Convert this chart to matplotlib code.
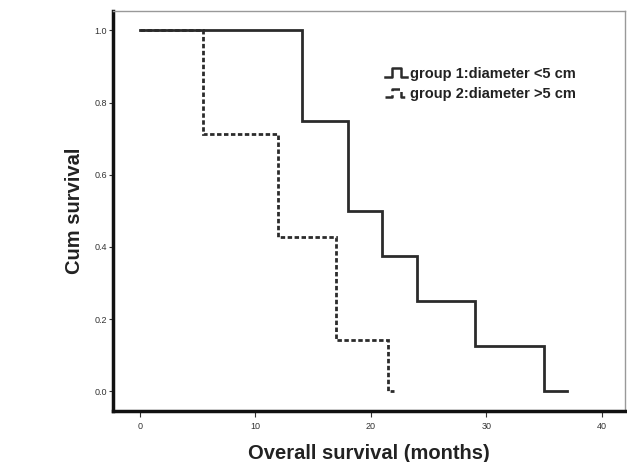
import matplotlib
matplotlib.use("Agg")
import matplotlib.pyplot as plt
import numpy as np
from matplotlib.lines import Line2D
from matplotlib.legend_handler import HandlerBase

# Kaplan-Meier step data
g1_time = [0, 14, 18, 21, 24, 29, 35, 37]
g1_surv = [1.0, 0.75, 0.5, 0.375, 0.25, 0.125, 0.0, 0.0]
g2_time = [0, 5.5, 12, 17, 21.5, 22]
g2_surv = [1.0, 0.714, 0.429, 0.143, 0.0, 0.0]

labels = ['group 1:diameter <5 cm', 'group 2:diameter >5 cm']
x_ticks = [0, 10, 20, 30, 40]
y_ticks = [0.0, 0.2, 0.4, 0.6, 0.8, 1.0]

plt.rcParams['font.family'] = ['Liberation Sans', 'DejaVu Sans']

line_col = '#2b2b2b'


class StepHandler(HandlerBase):
    # draws the little step glyph SPSS uses in its legends
    def create_artists(self, legend, orig_handle, xdescent, ydescent,
                       width, height, fontsize, trans):
        xs = np.array([0, 0.3, 0.3, 0.7, 0.7, 1.0]) * width - xdescent
        ys = (np.array([0, 0, 1, 1, 0, 0]) * 0.8 + 0.1) * height - ydescent
        ln = Line2D(xs, ys, color=orig_handle.get_color(),
                    lw=orig_handle.get_linewidth(),
                    ls=orig_handle.get_linestyle())
        ln.set_transform(trans)
        return [ln]


fig = plt.figure(figsize=(6.27, 4.62), dpi=100)
ax = fig.add_axes([0.181, 0.110, 0.816, 0.867])

l1, = ax.step(g1_time, g1_surv, where='post', color=line_col, lw=2.0,
              solid_joinstyle='miter')
l2, = ax.step(g2_time, g2_surv, where='post', color=line_col, lw=2.0,
              ls=(0, (1.6, 0.9)), dash_joinstyle='miter')

ax.set_xlim(-2.27, 42.0)
ax.set_ylim(-0.055, 1.055)
ax.set_xticks(x_ticks)
ax.set_yticks(y_ticks)
ax.set_yticklabels(['%.1f' % v for v in y_ticks])
ax.tick_params(axis='both', labelsize=6.5, colors='#333333', length=3,
               width=0.8, pad=1.5)
ax.tick_params(axis='x', length=4, pad=4)

for s in ['left', 'bottom']:
    ax.spines[s].set_linewidth(2.5)
    ax.spines[s].set_color('#111111')
for s in ['top', 'right']:
    ax.spines[s].set_linewidth(1.0)
    ax.spines[s].set_color('#999999')

ax.set_xlabel('Overall survival (months)', fontsize=14.5, fontweight='bold',
              color='#222222', labelpad=9)
ax.set_ylabel('Cum survival', fontsize=14.5, fontweight='bold',
              color='#222222', labelpad=8)

h1 = Line2D([], [], color=line_col, lw=1.8)
h2 = Line2D([], [], color=line_col, lw=1.8, ls=(0, (1.2, 0.9)))
leg = ax.legend([h1, h2], labels, handler_map={Line2D: StepHandler()},
                loc='upper left', bbox_to_anchor=(0.52, 0.875), frameon=False,
                handlelength=1.5, handleheight=0.8, handletextpad=0.2,
                labelspacing=0.45, borderaxespad=0,
                prop={'size': 10.5, 'weight': 'bold'})
for t in leg.get_texts():
    t.set_color('#222222')

fig.savefig('out.png', dpi=100)
